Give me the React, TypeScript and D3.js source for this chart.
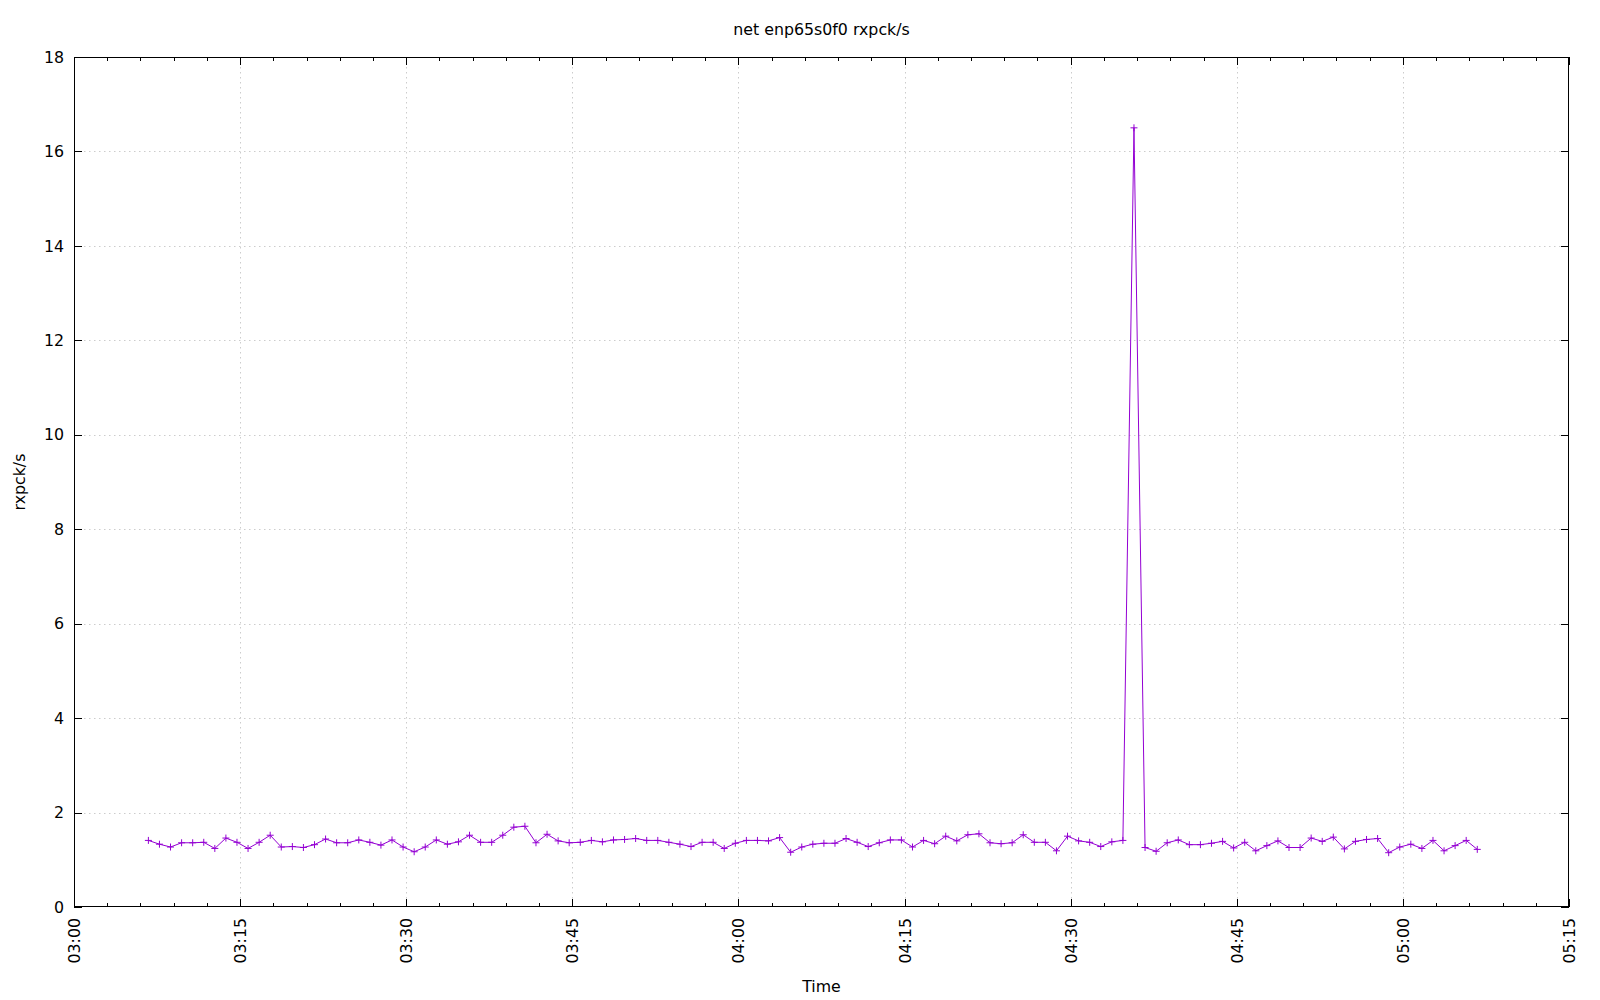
import React from "react";
import * as d3 from "d3";

const TITLE = "net enp65s0f0 rxpck/s";
const Y_LABEL = "rxpck/s";
const X_LABEL = "Time";
const START_TIME = "03:06:43";
const X_DOMAIN = ["03:00:00", "05:15:00"];
const Y_DOMAIN = [0, 18];
const Y_TICKS = [0, 2, 4, 6, 8, 10, 12, 14, 16, 18];
const X_MAJOR_MIN = 15;
const X_MINOR_MIN = 3;

const RXPCK = [
  1.41, 1.33, 1.27, 1.36, 1.36, 1.37, 1.24, 1.46, 1.37, 1.24, 1.37, 1.52, 1.27, 1.28, 1.26, 1.32, 1.44, 1.36, 1.36, 1.42, 1.37, 1.31, 1.42,
  1.27, 1.17, 1.27, 1.42, 1.33, 1.38, 1.52, 1.37, 1.37, 1.52, 1.69, 1.71, 1.36, 1.54, 1.40, 1.36, 1.37, 1.41, 1.38, 1.42, 1.43, 1.45, 1.41, 1.41,
  1.37, 1.33, 1.28, 1.37, 1.37, 1.24, 1.35, 1.41, 1.41, 1.40, 1.47, 1.16, 1.27, 1.33, 1.35, 1.35, 1.45, 1.37, 1.28, 1.36, 1.42, 1.42, 1.27,
  1.41, 1.34, 1.50, 1.40, 1.53, 1.55, 1.36, 1.34, 1.36, 1.53, 1.37, 1.37, 1.19, 1.50, 1.40, 1.37, 1.28, 1.38, 1.41,
  16.5,
  1.26, 1.18, 1.36, 1.42,
  1.32, 1.32, 1.35, 1.39, 1.25, 1.37, 1.19, 1.30, 1.40, 1.26, 1.26, 1.46, 1.39, 1.48, 1.23, 1.39, 1.43, 1.45, 1.15,
  1.27, 1.33, 1.24, 1.41, 1.19, 1.30, 1.41, 1.22,
];

const W = 1600;
const H = 1000;
const M = { left: 74, right: 1569, top: 57, bottom: 907 };
const FONT = "'DejaVu Sans', sans-serif";
const COLOR = "#9400d3";

export default function App() {
  const parse = d3.timeParse("%H:%M:%S");
  const start = parse(START_TIME) as Date;
  const times = RXPCK.map((_, i) => d3.timeMinute.offset(start, i));
  const data = RXPCK.map((v, i) => ({ t: times[i], v }));

  const x = d3
    .scaleTime()
    .domain([parse(X_DOMAIN[0]) as Date, parse(X_DOMAIN[1]) as Date])
    .range([M.left, M.right]);
  const y = d3.scaleLinear().domain(Y_DOMAIN).range([M.bottom, M.top]);

  const majorX = d3.timeMinute.every(X_MAJOR_MIN)!.range(x.domain()[0], d3.timeSecond.offset(x.domain()[1], 1));
  const minorX = d3.timeMinute.every(X_MINOR_MIN)!.range(x.domain()[0], d3.timeSecond.offset(x.domain()[1], 1));
  const fmt = d3.timeFormat("%H:%M");

  const line = d3
    .line<{ t: Date; v: number }>()
    .x((d) => x(d.t))
    .y((d) => y(d.v));

  const crisp = (v: number) => Math.round(v) + 0.5;
  const majorLen = 8;
  const minorLen = 4;

  return (
    <svg
      width={W}
      height={H}
      style={{ position: "absolute", left: 0, top: 0, background: "#fff" }}
      fontFamily={FONT}
    >
      <rect x={0} y={0} width={W} height={H} fill="#fff" />
      {/* grid */}
      <g stroke="#cccccc" strokeWidth={1} strokeDasharray="1.5,3.5">
        {Y_TICKS.filter((t) => t > Y_DOMAIN[0] && t < Y_DOMAIN[1]).map((t) => (
          <line key={"gy" + t} x1={M.left} x2={M.right} y1={crisp(y(t))} y2={crisp(y(t))} />
        ))}
        {majorX.slice(1, -1).map((t, i) => (
          <line key={"gx" + i} x1={crisp(x(t))} x2={crisp(x(t))} y1={M.top} y2={M.bottom} />
        ))}
      </g>
      {/* ticks */}
      <g stroke="#000" strokeWidth={1}>
        {Y_TICKS.map((t) => (
          <g key={"ty" + t}>
            <line x1={M.left} x2={M.left + majorLen} y1={crisp(y(t))} y2={crisp(y(t))} />
            <line x1={M.right - majorLen} x2={M.right} y1={crisp(y(t))} y2={crisp(y(t))} />
          </g>
        ))}
        {minorX.map((t, i) => {
          const isMajor = t.getMinutes() % X_MAJOR_MIN === 0;
          const len = isMajor ? majorLen : minorLen;
          const xx = crisp(x(t));
          return (
            <g key={"tx" + i}>
              <line x1={xx} x2={xx} y1={M.bottom} y2={M.bottom - len} />
              <line x1={xx} x2={xx} y1={M.top} y2={M.top + len} />
            </g>
          );
        })}
      </g>
      {/* frame */}
      <rect
        x={M.left + 0.5}
        y={M.top + 0.5}
        width={M.right - M.left - 1}
        height={M.bottom - M.top - 1}
        fill="none"
        stroke="#000"
        strokeWidth={1}
      />
      {/* labels */}
      <g fontSize={15.8} fill="#000">
        {Y_TICKS.map((t) => (
          <text key={"ly" + t} x={M.left - 10} y={y(t)} dy="0.36em" textAnchor="end">
            {t}
          </text>
        ))}
        {majorX.map((t, i) => (
          <text
            key={"lx" + i}
            transform={`translate(${x(t) + 6},${M.bottom + 11}) rotate(-90)`}
            textAnchor="end"
          >
            {fmt(t)}
          </text>
        ))}
        <text x={(M.left + M.right) / 2} y={35} textAnchor="middle">
          {TITLE}
        </text>
        <text x={(M.left + M.right) / 2} y={992} textAnchor="middle">
          {X_LABEL}
        </text>
        <text transform={`translate(25,${(M.top + M.bottom) / 2}) rotate(-90)`} textAnchor="middle">
          {Y_LABEL}
        </text>
      </g>
      {/* series */}
      <path d={line(data) || ""} fill="none" stroke={COLOR} strokeWidth={1} />
      <g stroke={COLOR} strokeWidth={1}>
        {data.map((d, i) => (
          <path
            key={"p" + i}
            transform={`translate(${x(d.t)},${y(d.v)})`}
            d="M-3.5,0H3.5M0,-3.5V3.5"
          />
        ))}
      </g>
    </svg>
  );
}
